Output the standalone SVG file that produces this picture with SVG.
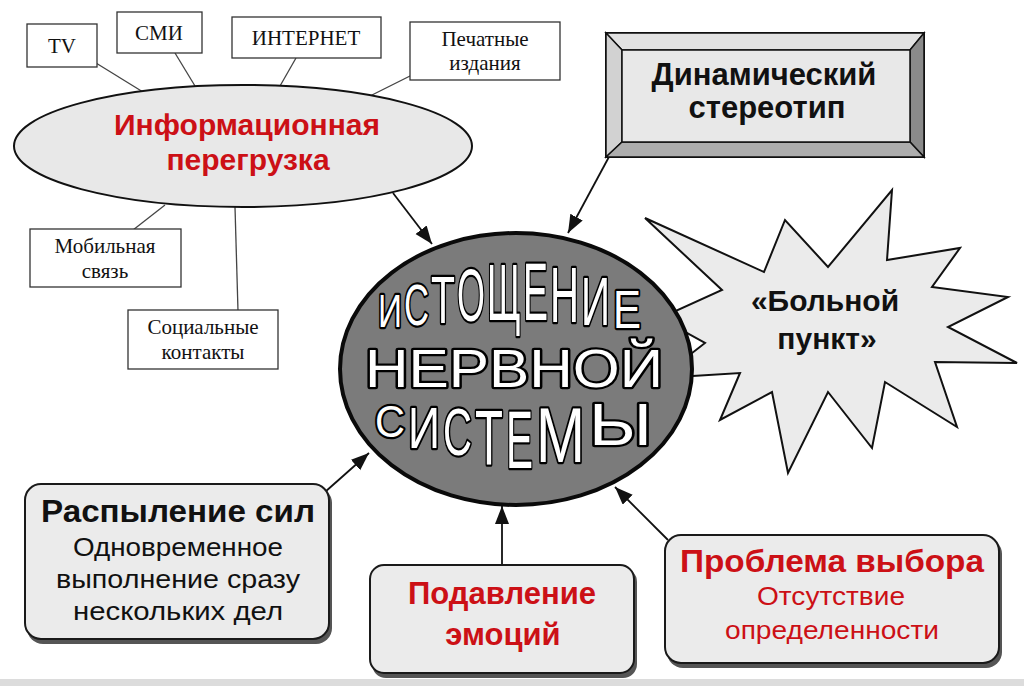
<svg xmlns="http://www.w3.org/2000/svg" width="1024" height="686" viewBox="0 0 1024 686">
<style>
.sbox{fill:#fff;stroke:#333;stroke-width:1.3}
.stx{font-family:"Liberation Serif",serif;font-size:21px;fill:#111;text-anchor:middle}
.thin{stroke:#444;stroke-width:1.3;fill:none}
.arr{stroke:#111;stroke-width:1.8;fill:none;marker-end:url(#ah)}
.sans{font-family:"Liberation Sans",Arial,sans-serif;text-anchor:middle}
.red{fill:#cc1016}
.big{fill:#fff;stroke:#000;stroke-width:4.5;paint-order:stroke;stroke-linejoin:round;font-family:"Liberation Sans",Arial,sans-serif}
.rbox{fill:#ebebeb;stroke:#1a1a1a;stroke-width:2}
.shadow{fill:#555}
</style>
<defs>
<marker id="ah" markerUnits="userSpaceOnUse" markerWidth="20" markerHeight="16" refX="18" refY="7" orient="auto">
<path d="M0,0 L18,7 L0,14 z" fill="#111"/>
</marker>
</defs>
<rect x="0" y="0" width="1024" height="686" fill="#fff"/>
<rect x="0" y="679" width="1024" height="7" fill="#dcdcdc"/>

<g id="star">
<polygon points="645,218 764,272 785,220 828,267 892,190 887,260 960,248 932,287 1008,297 948,327 1017,363 935,362 957,427 885,382 872,448 828,392 788,473 772,392 720,420 740,373 660,378 705,343 660,318 722,290" fill="#ebebeb" stroke="#111" stroke-width="2" stroke-linejoin="miter"/>
<text class="sans" x="825" y="311" font-size="30" font-weight="bold" fill="#111">«Больной</text>
<text class="sans" x="827" y="349" font-size="30" font-weight="bold" fill="#111">пункт»</text>
</g>

<g id="connectors">
<line class="thin" x1="96" y1="63" x2="143" y2="92"/>
<line class="thin" x1="175" y1="53" x2="195" y2="86"/>
<line class="thin" x1="296" y1="58" x2="280" y2="86"/>
<line class="thin" x1="412" y1="75" x2="370" y2="96"/>
<line class="thin" x1="165" y1="205" x2="133" y2="230"/>
<line class="thin" x1="235" y1="207" x2="238" y2="311"/>
<line class="arr" x1="393" y1="193" x2="432" y2="244"/>
<line class="arr" x1="610" y1="155" x2="568" y2="233"/>
<line class="arr" x1="325" y1="492" x2="369" y2="453"/>
<line class="arr" x1="502" y1="565" x2="502" y2="506"/>
<line class="arr" x1="668" y1="540" x2="615" y2="487"/>
</g>

<g id="tv"><rect class="sbox" x="27" y="24" width="70" height="43"/><text class="stx" x="62" y="53">TV</text></g>
<g id="smi"><rect class="sbox" x="117" y="12" width="85" height="41"/><text class="stx" x="159" y="40">СМИ</text></g>
<g id="internet"><rect class="sbox" x="232" y="17" width="149" height="41"/><text class="stx" x="306" y="45">ИНТЕРНЕТ</text></g>
<g id="print"><rect class="sbox" x="410" y="22" width="150" height="58"/><text class="stx" x="485" y="46" font-size="19">Печатные</text><text class="stx" x="485" y="70" font-size="19">издания</text></g>
<g id="mobile"><rect class="sbox" x="30" y="229" width="151" height="58"/><text class="stx" x="105" y="253" font-size="20">Мобильная</text><text class="stx" x="105" y="278" font-size="20">связь</text></g>
<g id="social"><rect class="sbox" x="128" y="310" width="150" height="59"/><text class="stx" x="203" y="334" font-size="20">Социальные</text><text class="stx" x="203" y="359" font-size="20">контакты</text></g>

<g id="info">
<ellipse cx="243" cy="146" rx="229" ry="61" fill="#e8e8e8" stroke="#111" stroke-width="2"/>
<text class="sans red" x="247" y="135" font-size="30" font-weight="bold">Информационная</text>
<text class="sans red" x="248" y="170" font-size="30" font-weight="bold">перегрузка</text>
</g>

<g id="dynamic">
<rect x="606" y="33" width="318" height="124" fill="#e6e6e6" stroke="#111" stroke-width="2"/>
<polygon points="606,33 924,33 910,50 622,50" fill="#e2e2e2" stroke="#111" stroke-width="1.5"/>
<polygon points="606,33 622,50 622,142 606,157" fill="#d2d2d2" stroke="#111" stroke-width="1.5"/>
<polygon points="924,33 924,157 910,142 910,50" fill="#8a8a8a" stroke="#111" stroke-width="1.5"/>
<polygon points="606,157 622,142 910,142 924,157" fill="#adadad" stroke="#111" stroke-width="1.5"/>
<rect x="622" y="50" width="288" height="92" fill="#e8e8e8" stroke="#111" stroke-width="1.5"/>
<text class="sans" x="764" y="85" font-size="31" font-weight="bold" fill="#111">Динамический</text>
<text class="sans" x="767" y="118" font-size="31" font-weight="bold" fill="#111">стереотип</text>
</g>

<g id="center">
<ellipse cx="516" cy="369" rx="176" ry="136" fill="#7b7b7b" stroke="#0a0a0a" stroke-width="4"/>
<text class="big">
<tspan x="378" y="327" font-size="46" textLength="24" lengthAdjust="spacingAndGlyphs">И</tspan><tspan x="404" y="325" font-size="57" textLength="25" lengthAdjust="spacingAndGlyphs">С</tspan><tspan x="431" y="323" font-size="67" textLength="24" lengthAdjust="spacingAndGlyphs">Т</tspan><tspan x="457" y="321" font-size="74" textLength="28" lengthAdjust="spacingAndGlyphs">О</tspan><tspan x="487" y="320" font-size="80" textLength="34" lengthAdjust="spacingAndGlyphs">Щ</tspan><tspan x="523" y="320" font-size="81" textLength="25" lengthAdjust="spacingAndGlyphs">Е</tspan><tspan x="550" y="322" font-size="78" textLength="29" lengthAdjust="spacingAndGlyphs">Н</tspan><tspan x="581" y="325" font-size="68" textLength="29" lengthAdjust="spacingAndGlyphs">И</tspan><tspan x="613" y="328" font-size="53" textLength="28" lengthAdjust="spacingAndGlyphs">Е</tspan>
</text>
<text class="big" x="365" y="387" font-size="53" textLength="298" lengthAdjust="spacingAndGlyphs" stroke-width="5">НЕРВНОЙ</text>
<text class="big">
<tspan x="375" y="437" font-size="45" textLength="30" lengthAdjust="spacingAndGlyphs">С</tspan><tspan x="408" y="448" font-size="57" textLength="32" lengthAdjust="spacingAndGlyphs">И</tspan><tspan x="443" y="455" font-size="66" textLength="29" lengthAdjust="spacingAndGlyphs">С</tspan><tspan x="475" y="465" font-size="77" textLength="28" lengthAdjust="spacingAndGlyphs">Т</tspan><tspan x="506" y="468" font-size="81" textLength="27" lengthAdjust="spacingAndGlyphs">Е</tspan><tspan x="536" y="462" font-size="77" textLength="49" lengthAdjust="spacingAndGlyphs">М</tspan><tspan x="589" y="445" font-size="59" textLength="63" lengthAdjust="spacingAndGlyphs">Ы</tspan>
</text>
</g>

<g id="raspylenie">
<rect class="shadow" x="27" y="487" width="305" height="157" rx="16"/>
<rect class="rbox" x="25" y="484" width="304" height="155" rx="16"/>
<text class="sans" x="178" y="522" font-size="31" font-weight="bold" fill="#111" textLength="274" lengthAdjust="spacingAndGlyphs">Распыление  сил</text>
<text class="sans" x="178" y="556" font-size="25" fill="#111" textLength="210" lengthAdjust="spacingAndGlyphs">Одновременное</text>
<text class="sans" x="178" y="588" font-size="25" fill="#111" textLength="244" lengthAdjust="spacingAndGlyphs">выполнение  сразу</text>
<text class="sans" x="178" y="620" font-size="25" fill="#111" textLength="210" lengthAdjust="spacingAndGlyphs">нескольких  дел</text>
</g>

<g id="podavlenie">
<rect class="shadow" x="372" y="568" width="265" height="110" rx="14"/>
<rect class="rbox" x="370" y="565" width="264" height="108" rx="14"/>
<text class="sans red" x="502" y="604" font-size="31" font-weight="bold">Подавление</text>
<text class="sans red" x="503" y="645" font-size="31" font-weight="bold">эмоций</text>
</g>

<g id="problema">
<rect class="shadow" x="667" y="538" width="335" height="130" rx="16"/>
<rect class="rbox" x="665" y="535" width="334" height="128" rx="16"/>
<text class="sans red" x="832" y="572" font-size="31" font-weight="bold" textLength="304" lengthAdjust="spacingAndGlyphs">Проблема  выбора</text>
<text class="sans red" x="831" y="605" font-size="25" textLength="148" lengthAdjust="spacingAndGlyphs">Отсутствие</text>
<text class="sans red" x="832" y="639" font-size="25" textLength="214" lengthAdjust="spacingAndGlyphs">определенности</text>
</g>
</svg>
